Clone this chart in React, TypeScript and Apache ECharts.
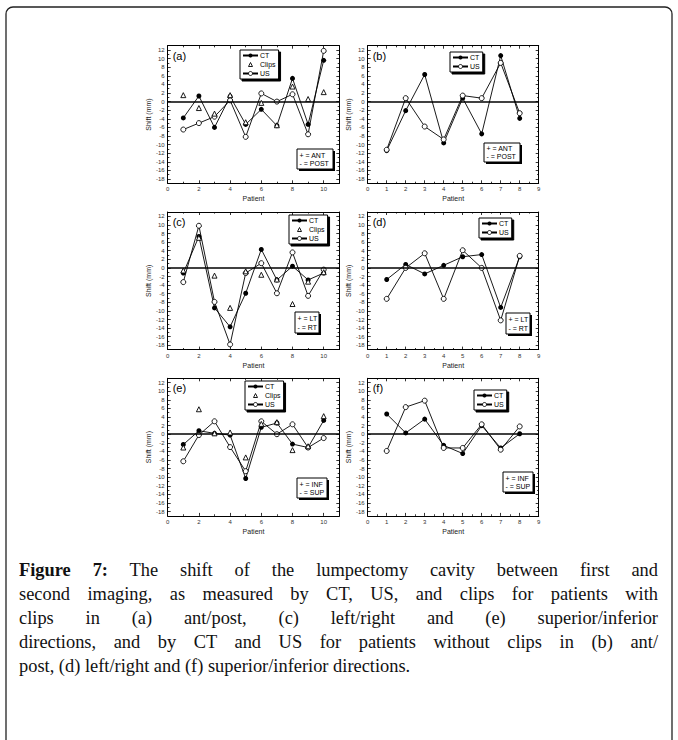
import React, { useEffect, useRef } from "react";
import * as echarts from "echarts";

// ---------- data ----------
const patients10 = [1, 2, 3, 4, 5, 6, 7, 8, 9, 10];
const patients8 = [1, 2, 3, 4, 5, 6, 7, 8];

const yMajorTicks = [-18, -16, -14, -12, -10, -8, -6, -4, -2, 0, 2, 4, 6, 8, 10, 12];
const yMinorTicks = [-19, -17, -15, -13, -11, -9, -7, -5, -3, -1, 1, 3, 5, 7, 9, 11, 13];
const xMajor10 = [0, 2, 4, 6, 8, 10];
const xMinor10 = [1, 3, 5, 7, 9, 11];
const xMajor8 = [0, 1, 2, 3, 4, 5, 6, 7, 8, 9];
const xMinor8 = [0.5, 1.5, 2.5, 3.5, 4.5, 5.5, 6.5, 7.5, 8.5];

// (a) ant/post with clips
const aCT = [-3.8, 1.3, -6.0, 1.2, -5.3, -1.8, -5.6, 5.4, -5.3, 9.6];
const aClips = [1.5, -1.5, -2.8, 1.5, -4.8, -0.3, -5.5, 3.5, 0.6, 2.2];
const aUS = [-6.5, -5.0, -3.5, 0.3, -8.2, 1.9, 0.0, 1.7, -7.6, 11.8];
// (b) ant/post without clips
const bCT = [-11.4, -2.1, 6.3, -9.6, 0.8, -7.5, 10.7, -3.9];
const bUS = [-11.2, 0.8, -5.8, -8.8, 1.4, 0.8, 9.0, -2.7];
// (c) left/right with clips
const cCT = [-1.2, 7.3, -9.3, -13.7, -5.9, 4.3, -2.8, 0.4, -2.8, -1.2];
const cClips = [-0.6, 7.0, -1.8, -9.3, -0.8, -1.6, -2.7, -8.4, -3.2, -1.0];
const cUS = [-3.3, 9.8, -7.9, -17.8, -1.2, 1.1, -5.9, 3.6, -6.5, -0.4];
// (d) left/right without clips
const dCT = [-2.7, 0.8, -1.4, 0.6, 2.6, 3.1, -9.2, 2.6];
const dUS = [-7.2, 0.0, 3.4, -7.2, 4.1, 0.0, -12.2, 2.8];
// (e) sup/inf with clips
const eCT = [-2.4, 0.8, 0.2, -0.2, -10.3, 1.6, 2.6, -2.3, -3.1, 3.2];
const eClips = [-3.1, 5.8, 0.2, 0.4, -5.4, 2.4, 2.8, -3.7, -2.8, 4.2];
const eUS = [-6.3, -0.2, 3.0, -3.0, -8.6, 3.0, 0.0, 2.3, -3.1, -0.9];
// (f) sup/inf without clips
const fCT = [4.7, 0.3, 3.5, -2.6, -4.5, 2.0, -3.2, 0.1];
const fUS = [-3.9, 6.3, 7.8, -3.2, -3.2, 2.3, -3.6, 1.8];

const signAnt = ["+ = ANT", "- = POST"];
const signLt = ["+ = LT", "- = RT"];
const signInf = ["+ = INF", "- = SUP"];

// ---------- layout ----------
const COL_LEFT = [167.7, 367.7];
const COL_W = [171.6, 171];
const ROW_TOP = [45.7, 212, 378.3];
const GRID_H = 137.6;
const SANS = "Liberation Sans, Arial, sans-serif";

type Panel = {
  label: string; row: number; col: number; xs: number[];
  ct: number[]; clips: number[] | null; us: number[];
  xMax: number; xMajor: number[]; xMinor: number[];
  legend: { left: number; top: number };
  sign: { x: number; y: number; w: number; h: number; lines: string[] };
};

const panels: Panel[] = [
  { label: "(a)", row: 0, col: 0, xs: patients10, ct: aCT, clips: aClips, us: aUS, xMax: 11, xMajor: xMajor10, xMinor: xMinor10,
    legend: { left: 240, top: 50 }, sign: { x: 297, y: 149, w: 36, h: 20, lines: signAnt } },
  { label: "(b)", row: 0, col: 1, xs: patients8, ct: bCT, clips: null, us: bUS, xMax: 9, xMajor: xMajor8, xMinor: xMinor8,
    legend: { left: 450, top: 52 }, sign: { x: 484, y: 143, w: 36, h: 19, lines: signAnt } },
  { label: "(c)", row: 1, col: 0, xs: patients10, ct: cCT, clips: cClips, us: cUS, xMax: 11, xMajor: xMajor10, xMinor: xMinor10,
    legend: { left: 289, top: 215 }, sign: { x: 295, y: 312, w: 24, h: 21, lines: signLt } },
  { label: "(d)", row: 1, col: 1, xs: patients8, ct: dCT, clips: null, us: dUS, xMax: 9, xMajor: xMajor8, xMinor: xMinor8,
    legend: { left: 479, top: 218 }, sign: { x: 506, y: 313, w: 24, h: 21, lines: signLt } },
  { label: "(e)", row: 2, col: 0, xs: patients10, ct: eCT, clips: eClips, us: eUS, xMax: 11, xMajor: xMajor10, xMinor: xMinor10,
    legend: { left: 245, top: 381 }, sign: { x: 297, y: 478, w: 30, h: 20, lines: signInf } },
  { label: "(f)", row: 2, col: 1, xs: patients8, ct: fCT, clips: null, us: fUS, xMax: 9, xMajor: xMajor8, xMinor: xMinor8,
    legend: { left: 474, top: 390 }, sign: { x: 503, y: 472, w: 30, h: 20, lines: signInf } },
];

const captionLines = [
  "The shift of the lumpectomy cavity between first and",
  "second imaging, as measured by CT, US, and clips for patients with",
  "clips in (a) ant/post, (c) left/right and (e) superior/inferior",
  "directions, and by CT and US for patients without clips in (b) ant/",
  "post, (d) left/right and (f) superior/inferior directions.",
];

function pairs(xs: number[], ys: number[]) {
  return xs.map((x, i) => [x, ys[i]]);
}

const openStyle = { color: "#fff", borderColor: "#000", borderWidth: 0.9 };

function buildOption() {
  const grids: any[] = [];
  const xAxes: any[] = [];
  const yAxes: any[] = [];
  const series: any[] = [];
  const legends: any[] = [];
  const graphics: any[] = [];

  graphics.push({
    type: "rect", silent: true, z: 0,
    shape: { x: 6, y: 7, width: 666, height: 780, r: 7 },
    style: { fill: "none", stroke: "#222", lineWidth: 1.3 },
  });

  panels.forEach((p, gi) => {
    const left = COL_LEFT[p.col];
    const top = ROW_TOP[p.row];
    const w = COL_W[p.col];
    grids.push({ left, top, width: w, height: GRID_H, containLabel: false });

    const tickLine = { color: "#000", width: 0.8 };
    const xBase = { type: "value", gridIndex: gi, min: 0, max: p.xMax, splitLine: { show: false } };
    const mainX = xAxes.length;
    xAxes.push({
      ...xBase, position: "bottom",
      axisLine: { show: true, onZero: false, lineStyle: { color: "#000", width: 1 } },
      axisTick: { show: true, inside: true, length: 3, customValues: p.xMajor, lineStyle: tickLine },
      axisLabel: { show: true, customValues: p.xMajor, fontSize: 6, color: "#333", margin: 3, fontFamily: SANS },
      name: "Patient", nameLocation: "middle", nameGap: 12,
      nameTextStyle: { fontSize: 7, fontFamily: SANS, color: "#222" },
    });
    xAxes.push({
      ...xBase, position: "bottom",
      axisLine: { show: false, onZero: false },
      axisTick: { show: true, inside: true, length: 1.6, customValues: p.xMinor, lineStyle: tickLine },
      axisLabel: { show: false },
    });
    xAxes.push({
      ...xBase, position: "top",
      axisLine: { show: true, onZero: false, lineStyle: { color: "#000", width: 1 } },
      axisTick: { show: true, inside: true, length: 3, customValues: p.xMajor, lineStyle: tickLine },
      axisLabel: { show: false },
    });
    xAxes.push({
      ...xBase, position: "top",
      axisLine: { show: false, onZero: false },
      axisTick: { show: true, inside: true, length: 1.6, customValues: p.xMinor, lineStyle: tickLine },
      axisLabel: { show: false },
    });

    const yBase = { type: "value", gridIndex: gi, min: -19, max: 13, splitLine: { show: false } };
    const mainY = yAxes.length;
    yAxes.push({
      ...yBase, position: "left",
      axisLine: { show: true, onZero: false, lineStyle: { color: "#000", width: 1 } },
      axisTick: { show: true, inside: true, length: 3, customValues: yMajorTicks, lineStyle: tickLine },
      axisLabel: { show: true, customValues: yMajorTicks, fontSize: 6, color: "#333", margin: 3, fontFamily: SANS },
      name: "Shift (mm)", nameLocation: "middle", nameGap: 13,
      nameTextStyle: { fontSize: 7, fontFamily: SANS, color: "#222" },
    });
    yAxes.push({
      ...yBase, position: "left",
      axisLine: { show: false, onZero: false },
      axisTick: { show: true, inside: true, length: 1.6, customValues: yMinorTicks, lineStyle: tickLine },
      axisLabel: { show: false },
    });
    yAxes.push({
      ...yBase, position: "right",
      axisLine: { show: true, onZero: false, lineStyle: { color: "#000", width: 1 } },
      axisTick: { show: true, inside: true, length: 3, customValues: yMajorTicks, lineStyle: tickLine },
      axisLabel: { show: false },
    });
    yAxes.push({
      ...yBase, position: "right",
      axisLine: { show: false, onZero: false },
      axisTick: { show: true, inside: true, length: 1.6, customValues: yMinorTicks, lineStyle: tickLine },
      axisLabel: { show: false },
    });

    const lineStyle = { color: "#000", width: 0.9 };
    series.push({
      type: "line", name: "CT", xAxisIndex: mainX, yAxisIndex: mainY,
      data: pairs(p.xs, p.ct), symbol: "circle", symbolSize: 5,
      itemStyle: { color: "#000" }, lineStyle, z: 3,
      markLine: {
        silent: true, symbol: ["none", "none"], label: { show: false },
        lineStyle: { color: "#000", width: 1.6, type: "solid" },
        data: [{ yAxis: 0 }],
      },
    });
    series.push({
      type: "line", name: "US", xAxisIndex: mainX, yAxisIndex: mainY,
      data: pairs(p.xs, p.us), symbol: "circle", symbolSize: 5,
      itemStyle: openStyle, lineStyle, z: 4,
    });
    if (p.clips) {
      series.push({
        type: "line", name: "Clips", xAxisIndex: mainX, yAxisIndex: mainY,
        data: pairs(p.xs, p.clips), symbol: "triangle", symbolSize: 5,
        itemStyle: openStyle,
        lineStyle: { width: 0, opacity: 0 }, z: 5,
      });
    }

    const legendData: any[] = [{ name: "CT" }];
    if (p.clips) legendData.push({ name: "Clips", itemStyle: openStyle });
    legendData.push({ name: "US", itemStyle: openStyle });

    legends.push({
      show: true, orient: "vertical", left: p.legend.left, top: p.legend.top,
      data: legendData,
      itemWidth: 15, itemHeight: 5, itemGap: 2, padding: [2, 3, 2, 2],
      borderColor: "#000", borderWidth: 1, backgroundColor: "#fff",
      shadowColor: "#000", shadowOffsetX: 2, shadowOffsetY: 2, shadowBlur: 0,
      selectedMode: false,
      textStyle: { fontSize: 7, fontFamily: SANS, color: "#000", padding: [0, 0, 0, -3] },
    });

    graphics.push({
      type: "text", silent: true, z: 10,
      x: left + 5, y: top + 10,
      style: { text: p.label, fontSize: 11, fontFamily: SANS, fill: "#000", verticalAlign: "middle" },
    });

    const s = p.sign;
    graphics.push({
      type: "rect", silent: true, z: 8,
      shape: { x: s.x + 2, y: s.y + 2, width: s.w, height: s.h },
      style: { fill: "#000" },
    });
    graphics.push({
      type: "rect", silent: true, z: 9,
      shape: { x: s.x, y: s.y, width: s.w, height: s.h },
      style: { fill: "#fff", stroke: "#000", lineWidth: 1 },
    });
    s.lines.forEach((t, i) => {
      graphics.push({
        type: "text", silent: true, z: 10,
        x: s.x + 2.5, y: s.y + s.h * (i === 0 ? 0.3 : 0.72),
        style: { text: t, fontSize: 7, fontFamily: SANS, fill: "#000", verticalAlign: "middle" },
      });
    });
  });

  return {
    animation: false,
    backgroundColor: "#fff",
    grid: grids,
    xAxis: xAxes,
    yAxis: yAxes,
    legend: legends,
    series,
    graphic: graphics,
  };
}

export default function App() {
  const ref = useRef<HTMLDivElement>(null);
  useEffect(() => {
    if (!ref.current) return;
    const chart = echarts.init(ref.current, undefined, { renderer: "svg" });
    chart.setOption(buildOption());
    return () => chart.dispose();
  }, []);

  const capFont = "'Liberation Serif', 'Times New Roman', serif";
  return (
    <div style={{ position: "absolute", left: 0, top: 0, width: 678, height: 740, overflow: "hidden", background: "#fff" }}>
      <div ref={ref} style={{ position: "absolute", left: 0, top: 0, width: 678, height: 740 }} />
      <div
        style={{
          position: "absolute", left: 19, top: 558, width: 639,
          fontFamily: capFont, fontSize: 18.4, lineHeight: "24px", color: "#111",
        }}
      >
        {captionLines.map((line, i) => (
          <div
            key={i}
            style={{
              textAlign: i < captionLines.length - 1 ? "justify" : "left",
              textAlignLast: i < captionLines.length - 1 ? "justify" : "left",
              whiteSpace: "nowrap",
            }}
          >
            {i === 0 ? <b>Figure 7:</b> : null}
            {i === 0 ? " " : ""}
            {line}
          </div>
        ))}
      </div>
    </div>
  );
}
